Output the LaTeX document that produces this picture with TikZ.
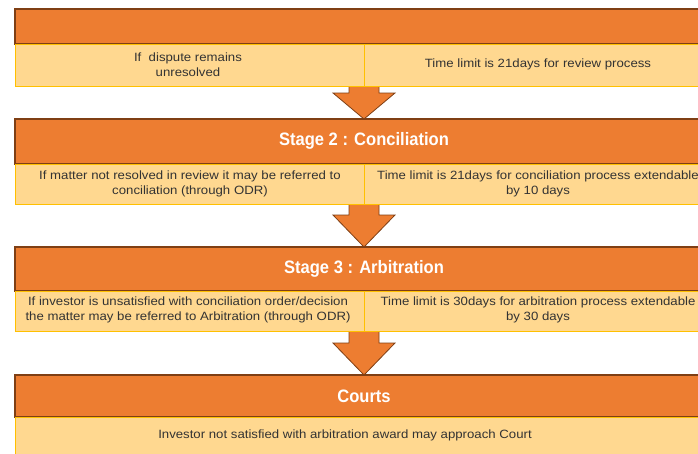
\documentclass[tikz,border=0pt]{standalone}
\usepackage{fontspec}
\setmainfont[FakeStretch=1.1]{Liberation Sans}
\newfontfamily\headfont[FakeStretch=0.92]{Liberation Sans}
\usepackage{tikz}
\definecolor{bandorange}{HTML}{ED7D31}
\definecolor{bandlight}{HTML}{FFD890}
\definecolor{bandedge}{HTML}{FFC000}
\definecolor{bandshadow}{HTML}{7F3F14}
\tikzset{
  heading/.style={fill=bandorange, draw=bandshadow, line width=1.2pt},
  detail/.style={fill=bandlight, draw=bandedge, line width=1pt},
  blockarrow/.style={fill=bandorange, draw=bandshadow, line width=0.8pt, line join=miter},
  title/.style={text=white, font=\headfont\fontsize{18}{20}\selectfont\bfseries},
  note/.style={align=center, text=black!80, font=\fontsize{12}{15}\selectfont}
}
\def\blockarrow(#1:#2:#3){\draw[blockarrow] (349,#1) -- (349,#2) -- (333,#2) -- (364,#3) -- (395,#2) -- (379,#2) -- (379,#1) -- cycle;}

\begin{document}
\begin{tikzpicture}[x=1pt, y=-1pt]
				\useasboundingbox (0,0) rectangle (698,453);
				
				\blockarrow(84:93:119);
				\blockarrow(202:215:247);
				\blockarrow(329:343:375);
				
				% review
				\draw[heading] (15,9) rectangle (720,44);
				\draw[detail] (15,44) rectangle (364,86);
				\draw[detail] (364,44) rectangle (712,86);
				\node[note] (review-if) at (188,65) {If\ \ dispute remains\\unresolved};
				\node[note] (review-time) at (538,64) {Time limit is 21days for review process};
				
				% conciliation
				\draw[heading] (15,119) rectangle (720,164);
				\draw[detail] (15,164) rectangle (364,204);
				\draw[detail] (364,164) rectangle (712,204);
				\node[title] (conciliation) at (364,141) {Stage 2 : Conciliation};
				\node[note] (conciliation-if) at (190,184) {If matter not resolved in review it may be referred to\\conciliation (through ODR)};
				\node[note] (conciliation-time) at (538,184) {Time limit is 21days for conciliation process extendable\\by 10 days};
				
				% arbitration
				\draw[heading] (15,247) rectangle (720,291);
				\draw[detail] (15,291) rectangle (364,331);
				\draw[detail] (364,291) rectangle (712,331);
				\node[title] (arbitration) at (364,269) {Stage 3 : Arbitration};
				\node[note] (arbitration-if) at (188,310) {If investor is unsatisfied with conciliation order/decision\\the matter may be referred to Arbitration (through ODR)};
				\node[note] (arbitration-time) at (538,310) {Time limit is 30days for arbitration process extendable\\by 30 days};
				
				% courts
				\draw[heading] (15,375) rectangle (720,417);
				\draw[detail] (15,417) rectangle (712,470);
				\node[title] (courts) at (364,396) {Courts};
				\node[note] (courts-note) at (345,435) {Investor not satisfied with arbitration award may approach Court};
			\end{tikzpicture}
\end{document}
